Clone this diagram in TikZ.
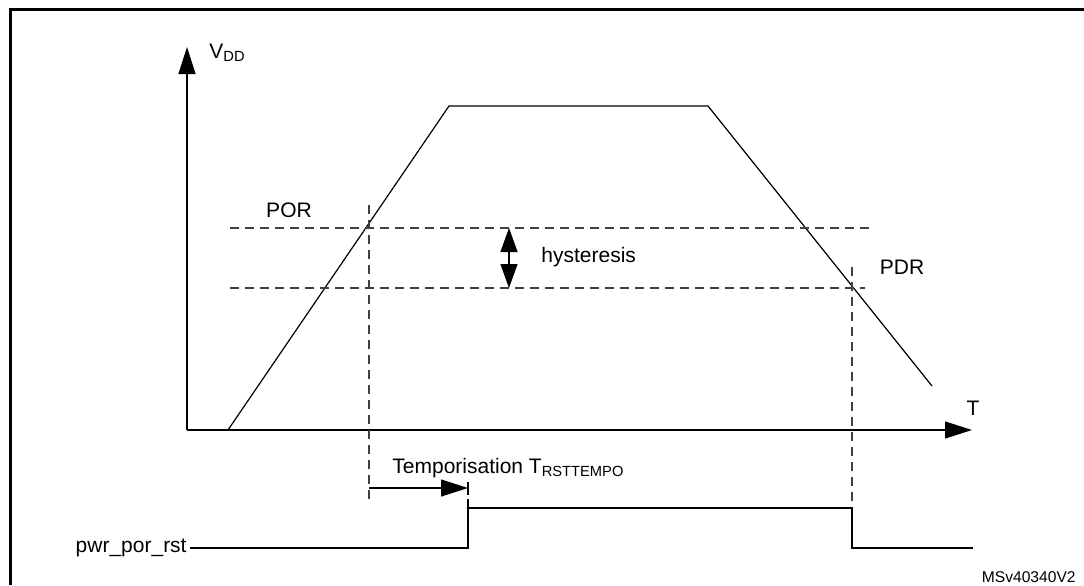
\documentclass[tikz,border=0pt]{standalone}
\usepackage{fontspec}
\setmainfont{Liberation Sans}
\usetikzlibrary{arrows.meta}
\tikzset{
  sig/.style={line width=0.6pt},
  guide/.style={dash pattern=on 4.5pt off 3pt, line width=0.6pt, black!75},
  bigtip/.style={-{Triangle[length=13.5pt,width=8.5pt]}},
  lbl/.style={font=\fontsize{10.5}{12}\selectfont, inner sep=0pt},
}
\begin{document}
\begin{tikzpicture}[x=0.5pt,y=-0.5pt]
  \useasboundingbox (0,0) rectangle (1084,585);
  \draw[line width=1.5pt] (10,585) -- (10,9) -- (1084,9);

  \coordinate (O) at (187,430);
  \coordinate (Ytop) at (187,47);
  \coordinate (Xend) at (972,430);
  \draw[sig,bigtip] (O) -- (Ytop);
  \draw[sig,bigtip] (O) -- (Xend);
  \node[lbl,anchor=west] (vdd) at (209,53) {V\textsubscript{DD}};
  \node[lbl] (taxis) at (973,408) {T};

  \coordinate (r0) at (228,430);
  \coordinate (r1) at (449,106);
  \coordinate (f0) at (708,106);
  \coordinate (f1) at (932,386);
  \draw[sig] (r0) -- (r1) -- (f0) -- (f1);

  \coordinate (hiL) at (230,228);
  \coordinate (hiR) at (875,228);
  \coordinate (loL) at (230,288);
  \coordinate (loR) at (865,288);
  \draw[guide] (hiL) -- (hiR);
  \draw[guide] (loL) -- (loR);
  \draw[guide] (369,205) coordinate (porT) -- (369,505) coordinate (porB);
  \draw[guide] (852,267) coordinate (pdrT) -- (852,508) coordinate (pdrB);
  \node[lbl] (por) at (289,210) {POR};
  \node[lbl] (pdr) at (902,267) {PDR};

  \coordinate (hysT) at (509,228);
  \coordinate (hysB) at (509,288);
  \draw[sig,{Triangle[length=12pt,width=8.5pt]}-{Triangle[length=12pt,width=8.5pt]}] (hysB) -- (hysT);
  \node[lbl,anchor=west] (hys) at (541,257) {hysteresis};

  \coordinate (tmpA) at (369,488);
  \coordinate (tmpB) at (468,488);
  \draw[sig,bigtip] (tmpA) -- (tmpB);
  \draw[sig] (468,482) -- (468,495);
  \node[lbl,anchor=west] (tmp) at (392,468) {Temporisation T\textsubscript{RSTTEMPO}};

  \node[lbl,anchor=east] (rst) at (187,548) {pwr\_por\_rst};
  \coordinate (up0) at (468,548);
  \coordinate (up1) at (468,499);
  \coordinate (hi0) at (468,508);
  \coordinate (hi1) at (852,508);
  \coordinate (dn1) at (852,548);
  \coordinate (end) at (973,548);
  \draw[sig] (rst.east) ++(3,0) -- (up0) -- (up1);
  \draw[sig] (hi0) -- (hi1) -- (dn1) -- (end);

  \node[font=\fontsize{7.8}{9}\selectfont, inner sep=0pt, anchor=east] (ref) at (1076,577) {MSv40340V2};
\end{tikzpicture}
\end{document}
